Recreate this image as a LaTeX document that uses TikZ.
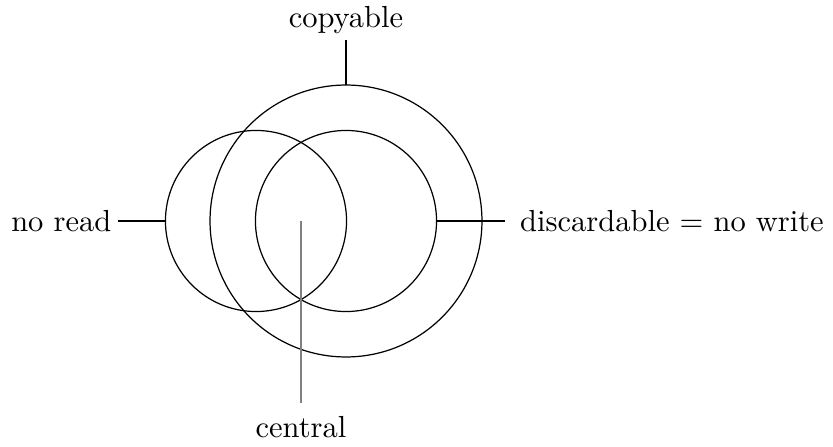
\documentclass[tikz,border=0pt]{standalone}
\usepackage{amsmath}
\usepackage{tikz}

\begin{document}
\begin{tikzpicture}[x=0.328pt,y=-0.328pt,
  ring/.style={draw,circle,inner sep=0pt,outer sep=0pt},
  lbl/.style={inner sep=0pt,outer sep=2.2pt}]
  \useasboundingbox (0,0) rectangle (833,447);
  % circles
  \node[ring,minimum size=89.2pt] (copy) at (346,221) {};
  \node[ring,minimum size=59.4pt] (noread) at (256,221) {};
  \node[ring,minimum size=59.4pt] (discard) at (346,221) {};
  \coordinate (centre) at (301,221);
  % labels
  \node[lbl,anchor=south] (copylbl) at (346,40) {copyable};
  \node[lbl,anchor=east] (noreadlbl) at (118,221) {no read};
  \node[lbl,anchor=west,outer sep=5pt] (discardlbl) at (505,221) {discardable $=$ no write};
  \node[lbl,anchor=north,outer sep=4.5pt] (centrallbl) at (301,403) {central};
  % connectors
  \draw (copy) -- (copylbl);
  \draw (noread) -- (noreadlbl);
  \draw (discard) -- (discardlbl);
  \draw[gray] (centre) -- (centrallbl);
\end{tikzpicture}
\end{document}
